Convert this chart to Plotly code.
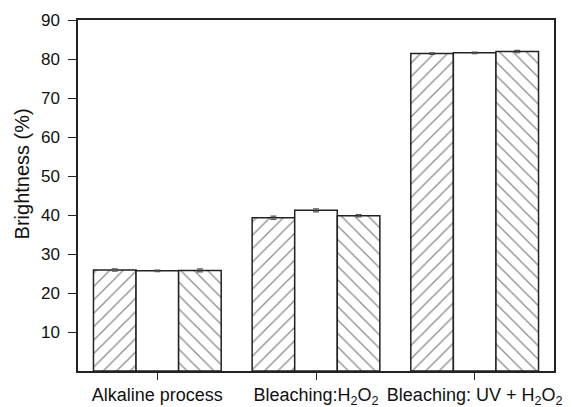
import plotly.graph_objects as go

categories = ["Alkaline process", "Bleaching:H<sub>2</sub>O<sub>2</sub>", "Bleaching: UV + H<sub>2</sub>O<sub>2</sub>"]
series_a = [25.9, 39.3, 81.4]
series_b = [25.7, 41.2, 81.6]
series_c = [25.8, 39.8, 81.9]
err_a = [0.3, 0.4, 0.2]
err_b = [0.2, 0.4, 0.2]
err_c = [0.4, 0.3, 0.3]
y_ticks = [10, 20, 30, 40, 50, 60, 70, 80, 90]

fig = go.Figure()
for vals, errs, shape in [(series_a, err_a, "/"), (series_b, err_b, ""), (series_c, err_c, "\\")]:
    fig.add_trace(go.Bar(
        x=categories, y=vals,
        error_y=dict(type="data", array=errs, color="#555555", thickness=1.2, width=3),
        marker=dict(color="white", line=dict(color="#222222", width=1.5),
                    pattern=dict(shape=shape, fgcolor="#111111", bgcolor="white", size=9.5, solidity=0.13)),
        showlegend=False,
    ))

fig.add_annotation(text="Brightness (%)", textangle=-90, xref="paper", yref="paper",
                   x=0, y=0.56, xanchor="center", yanchor="middle", xshift=-56, showarrow=False,
                   font=dict(size=20, family="Liberation Sans, Arial", color="#111111"))

fig.update_layout(
    width=573, height=407,
    margin=dict(l=78, r=19, t=20, b=36),
    barmode="group", bargap=0.195, bargroupgap=0,
    plot_bgcolor="white", paper_bgcolor="white",
    font=dict(family="Liberation Sans, Arial", color="#111111"),
    xaxis=dict(range=[-0.5, 2.5], showline=True, linecolor="#222222", linewidth=1.5, mirror=True,
               ticks="outside", ticklen=7, tickwidth=1.2, tickcolor="#222222",
               tickfont=dict(size=18), showgrid=False, automargin=False),
    yaxis=dict(range=[0, 90], tickvals=y_ticks, showline=True, linecolor="#222222", linewidth=1.5, mirror=True,
               ticks="outside", ticklen=8, tickwidth=1.2, tickcolor="#222222", ticklabelstandoff=5,
               tickfont=dict(size=17), showgrid=False, zeroline=False, automargin=False),
)
fig.write_html("out.html")
